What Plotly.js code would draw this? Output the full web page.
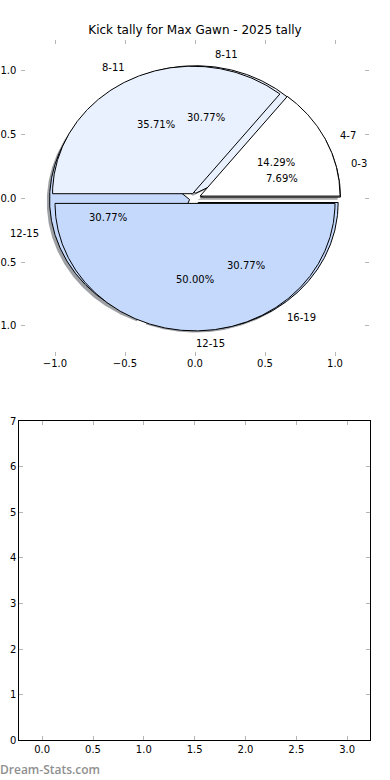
<!DOCTYPE html>
<html><head><meta charset="utf-8">
<script src="https://cdn.plot.ly/plotly-3.0.1.min.js"></script>
<style>html,body{margin:0;padding:0;background:#fff}#chart{width:390px;height:780px}</style>
</head><body><div id="chart"></div>
<script>
// ---- data ----
const chartTitle = 'Kick tally for Max Gawn - 2025 tally';
const pieALabels = ['0-3', '8-11', '12-15', '16-19'];
const pieAValues = [1, 4, 4, 4];
const pieBLabels = ['4-7', '8-11', '12-15'];
const pieBValues = [2, 5, 7];
const pieTicks = [-1, -0.5, 0, 0.5, 1];
const barXTicks = [0, 0.5, 1, 1.5, 2, 2.5, 3];
const barYTicks = [0, 1, 2, 3, 4, 5, 6, 7];
const watermark = 'Dream-Stats.com';

// ---- styles ----
const colorsA = ['#ffffff', '#e9f0fe', '#c5d9fd', '#c5d9fd'];
const colorsB = ['#ffffff', '#e9f0fe', '#c5d9fd'];
const EXPLODE = 0.04, LABEL_DIST = 1.1, PCT_DIST = 0.6;
const SHADOW_DX = -0.02, SHADOW_DY = -0.02;
const FONT = 'DejaVu Sans, sans-serif';
const TICKC = '#b5b5b5';

function wedges(values) {
  const total = values.reduce((a, b) => a + b, 0);
  let cum = 0;
  return values.map(v => {
    const frac = v / total;
    const t1 = 360 * cum, t2 = 360 * (cum + frac);
    cum += frac;
    const mid = (t1 + t2) / 2 * Math.PI / 180;
    return {frac, t1, t2, mid, cx: EXPLODE * Math.cos(mid), cy: EXPLODE * Math.sin(mid)};
  });
}
function poly(w, dx, dy) {
  const xs = [w.cx + dx], ys = [w.cy + dy];
  const n = Math.max(2, Math.ceil((w.t2 - w.t1) / 0.5));
  for (let i = 0; i <= n; i++) {
    const a = (w.t1 + (w.t2 - w.t1) * i / n) * Math.PI / 180;
    xs.push(w.cx + dx + Math.cos(a)); ys.push(w.cy + dy + Math.sin(a));
  }
  xs.push(w.cx + dx); ys.push(w.cy + dy);
  return {xs, ys};
}
function shade(hex) {
  const r = parseInt(hex.slice(1, 3), 16), g = parseInt(hex.slice(3, 5), 16), b = parseInt(hex.slice(5, 7), 16);
  return `rgba(${Math.round(r * 0.3)},${Math.round(g * 0.3)},${Math.round(b * 0.3)},0.5)`;
}

const wA = wedges(pieAValues), wB = wedges(pieBValues);
const traces = [];
wA.forEach((w, i) => {
  const p = poly(w, SHADOW_DX, SHADOW_DY);
  traces.push({type: 'scatter', mode: 'lines', x: p.xs, y: p.ys, fill: 'toself',
    fillcolor: shade(colorsA[i]), line: {width: 0, color: 'rgba(0,0,0,0)'}, hoverinfo: 'skip', xaxis: 'x', yaxis: 'y'});
});
function addPie(ws, colors) {
  ws.forEach((w, i) => {
    const p = poly(w, 0, 0);
    traces.push({type: 'scatter', mode: 'lines', x: p.xs, y: p.ys, fill: 'toself',
      fillcolor: colors[i], line: {width: 1, color: '#000'}, hoverinfo: 'skip', xaxis: 'x', yaxis: 'y'});
  });
}
addPie(wA, colorsA);
addPie(wB, colorsB);
traces.push({type: 'scatter', mode: 'markers', x: [], y: [], xaxis: 'x2', yaxis: 'y2'});

const annotations = [];
function addLabels(ws, labels) {
  ws.forEach((w, i) => {
    const xt = w.cx + LABEL_DIST * Math.cos(w.mid), yt = w.cy + LABEL_DIST * Math.sin(w.mid);
    annotations.push({xref: 'x', yref: 'y', x: xt, y: yt, text: labels[i], showarrow: false,
      xanchor: xt > -1e-9 ? 'left' : 'right', yanchor: 'middle', borderpad: 0,
      font: {family: FONT, size: 10, color: '#000'}});
    const xp = w.cx + PCT_DIST * Math.cos(w.mid), yp = w.cy + PCT_DIST * Math.sin(w.mid);
    annotations.push({xref: 'x', yref: 'y', x: xp, y: yp, text: (w.frac * 100).toFixed(2) + '%', showarrow: false,
      xanchor: 'center', yanchor: 'middle', borderpad: 0, font: {family: FONT, size: 10, color: '#000'}});
  });
}
addLabels(wA, pieALabels);
addLabels(wB, pieBLabels);
annotations.push({xref: 'paper', yref: 'paper', x: -1 / 390, y: 1 - 769 / 780, text: watermark, showarrow: false,
  xanchor: 'left', yanchor: 'middle', borderpad: 0,
  font: {family: 'Open Sans, sans-serif', size: 12, weight: 600, color: '#8f8f8f'}});

const tickfont = {family: FONT, size: 10, color: '#000'};
const layout = {
  width: 390, height: 780, margin: {l: 0, r: 0, t: 0, b: 0},
  paper_bgcolor: '#fff', plot_bgcolor: 'rgba(0,0,0,0)', showlegend: false,
  title: {text: chartTitle, x: 0.5, xanchor: 'center', y: 1 - 30 / 780, yanchor: 'middle',
    font: {family: FONT, size: 12, color: '#000'}},
  xaxis: {domain: [21.4 / 390, 368.6 / 390], range: [-1.24, 1.24], anchor: 'y', tickvals: pieTicks, tickformat: '.1f',
    ticks: 'inside', ticklen: 4, tickwidth: 1, tickcolor: TICKC, mirror: 'ticks', showline: false,
    showgrid: false, zeroline: false, tickfont: tickfont, fixedrange: true},
  yaxis: {domain: [1 - 356.4 / 780, 1 - 40.2 / 780], range: [-1.24, 1.24], anchor: 'x', tickvals: pieTicks, tickformat: '.1f',
    ticks: 'inside', ticklen: 4, tickwidth: 1, tickcolor: TICKC, mirror: 'ticks', showline: false,
    showgrid: false, zeroline: false, tickfont: tickfont, fixedrange: true, ticklabelstandoff: 4},
  xaxis2: {domain: [19.3 / 390, 370 / 390], range: [-0.225, 3.225], anchor: 'y2', tickvals: barXTicks, tickformat: '.1f',
    ticks: 'inside', ticklen: 4, tickwidth: 1, tickcolor: TICKC, mirror: 'ticks', showline: true, linecolor: '#000', linewidth: 1,
    showgrid: false, zeroline: false, tickfont: tickfont, fixedrange: true},
  yaxis2: {domain: [1 - 740.3 / 780, 1 - 421 / 780], range: [0, 7], anchor: 'x2', tickvals: barYTicks, tickformat: 'd',
    ticks: 'inside', ticklen: 4, tickwidth: 1, tickcolor: TICKC, mirror: 'ticks', showline: true, linecolor: '#000', linewidth: 1,
    showgrid: false, zeroline: false, tickfont: tickfont, fixedrange: true},
  annotations: annotations
};
Plotly.newPlot('chart', traces, layout, {displayModeBar: false, staticPlot: true});
</script>
</body></html>
